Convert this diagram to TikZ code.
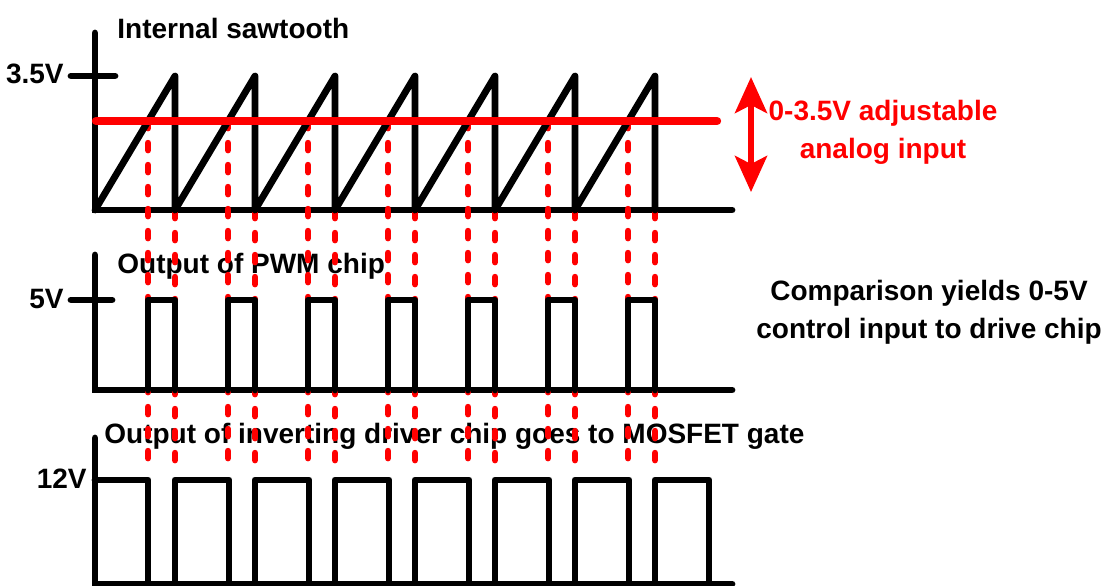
\documentclass[tikz,border=0pt]{standalone}
\usepackage{fontspec}
\setmainfont{Liberation Sans}
\usetikzlibrary{arrows.meta}

\begin{document}
\begin{tikzpicture}[
		x=0.5pt, y=-0.5pt,
		every node/.style={font=\fontsize{14pt}{17pt}\selectfont\bfseries, inner sep=0pt},
		axis/.style={line width=3.4pt, line cap=round},
		wave/.style={line width=3.4pt, line cap=round, line join=round},
		level/.style={red, line width=4.2pt, line cap=round},
		guide/.style={red, line width=3.2pt, line cap=round, dash pattern=on 3.6pt off 7.4pt},
		adjust/.style={red, line width=3pt, {Stealth[length=18pt, width=16pt, inset=4pt]}-{Stealth[length=18pt, width=16pt, inset=4pt]}}
		]
		\useasboundingbox (0,0) rectangle (1113,585);
		
		% Titles of the three traces
		\node[anchor=base west] (sawtitle) at (117,38) {Internal sawtooth};
		\node[anchor=base west] (pwmtitle) at (117,273) {Output of PWM chip};
		\node[anchor=base west] (gatetitle) at (104,443) {Output of inverting driver chip goes to MOSFET gate};
		
		% Voltage labels
		\node[anchor=base east] (vsaw) at (64,83) {3.5V};
		\node[anchor=base east] (vpwm) at (64,308) {5V};
		\node[anchor=base east] (vgate) at (87,488) {12V};
		
		% Notes on the right
		\node[anchor=base, red] (adjone) at (883,120) {0-3.5V adjustable};
		\node[anchor=base, red] (adjtwo) at (883,158) {analog input};
		\node[anchor=base] (cmpone) at (929,300) {Comparison yields 0-5V};
		\node[anchor=base] (cmptwo) at (929,338) {control input to drive chip};
		
		% Axes
		\draw[axis] (95,33) -- (95,210) -- (732,210);
		\draw[axis] (71,76) -- (115,76);
		\draw[axis] (95,255) -- (95,390) -- (732,390);
		\draw[axis] (71,300) -- (112,300);
		\draw[axis] (95,438) -- (95,584) -- (732,584);
		
		% Red guides down to the gate trace
		\foreach \k in {0,...,6} {
			\draw[guide] ({148+80*\k},121) -- ({148+80*\k},470);
			\draw[guide] ({175+80*\k},211) -- ({175+80*\k},470);
		}
		
		% Sawtooth
		\draw[wave] (95,210) \foreach \k in {0,...,6} { -- ({175+80*\k},76) -- ({175+80*\k},210) };
		
		% PWM pulses
		\foreach \k in {0,...,6}
			\draw[wave] ({148+80*\k},390) -- ({148+80*\k},300) -- ({175+80*\k},300) -- ({175+80*\k},390);
		
		% Gate drive
		\draw[wave] (95,480) -- (148,480) -- (148,584);
		\foreach \k in {0,...,6}
			\draw[wave] ({175+80*\k},584) -- ({175+80*\k},480) -- ({229+80*\k},480) -- ({229+80*\k},584);
		
		% Analog input level
		\draw[level] (96,121) -- (717,121);
		\coordinate (adjtop) at (751,77);
		\coordinate (adjbot) at (751,192);
		\draw[adjust] (adjtop) -- (adjbot);
		
	\end{tikzpicture}
\end{document}
